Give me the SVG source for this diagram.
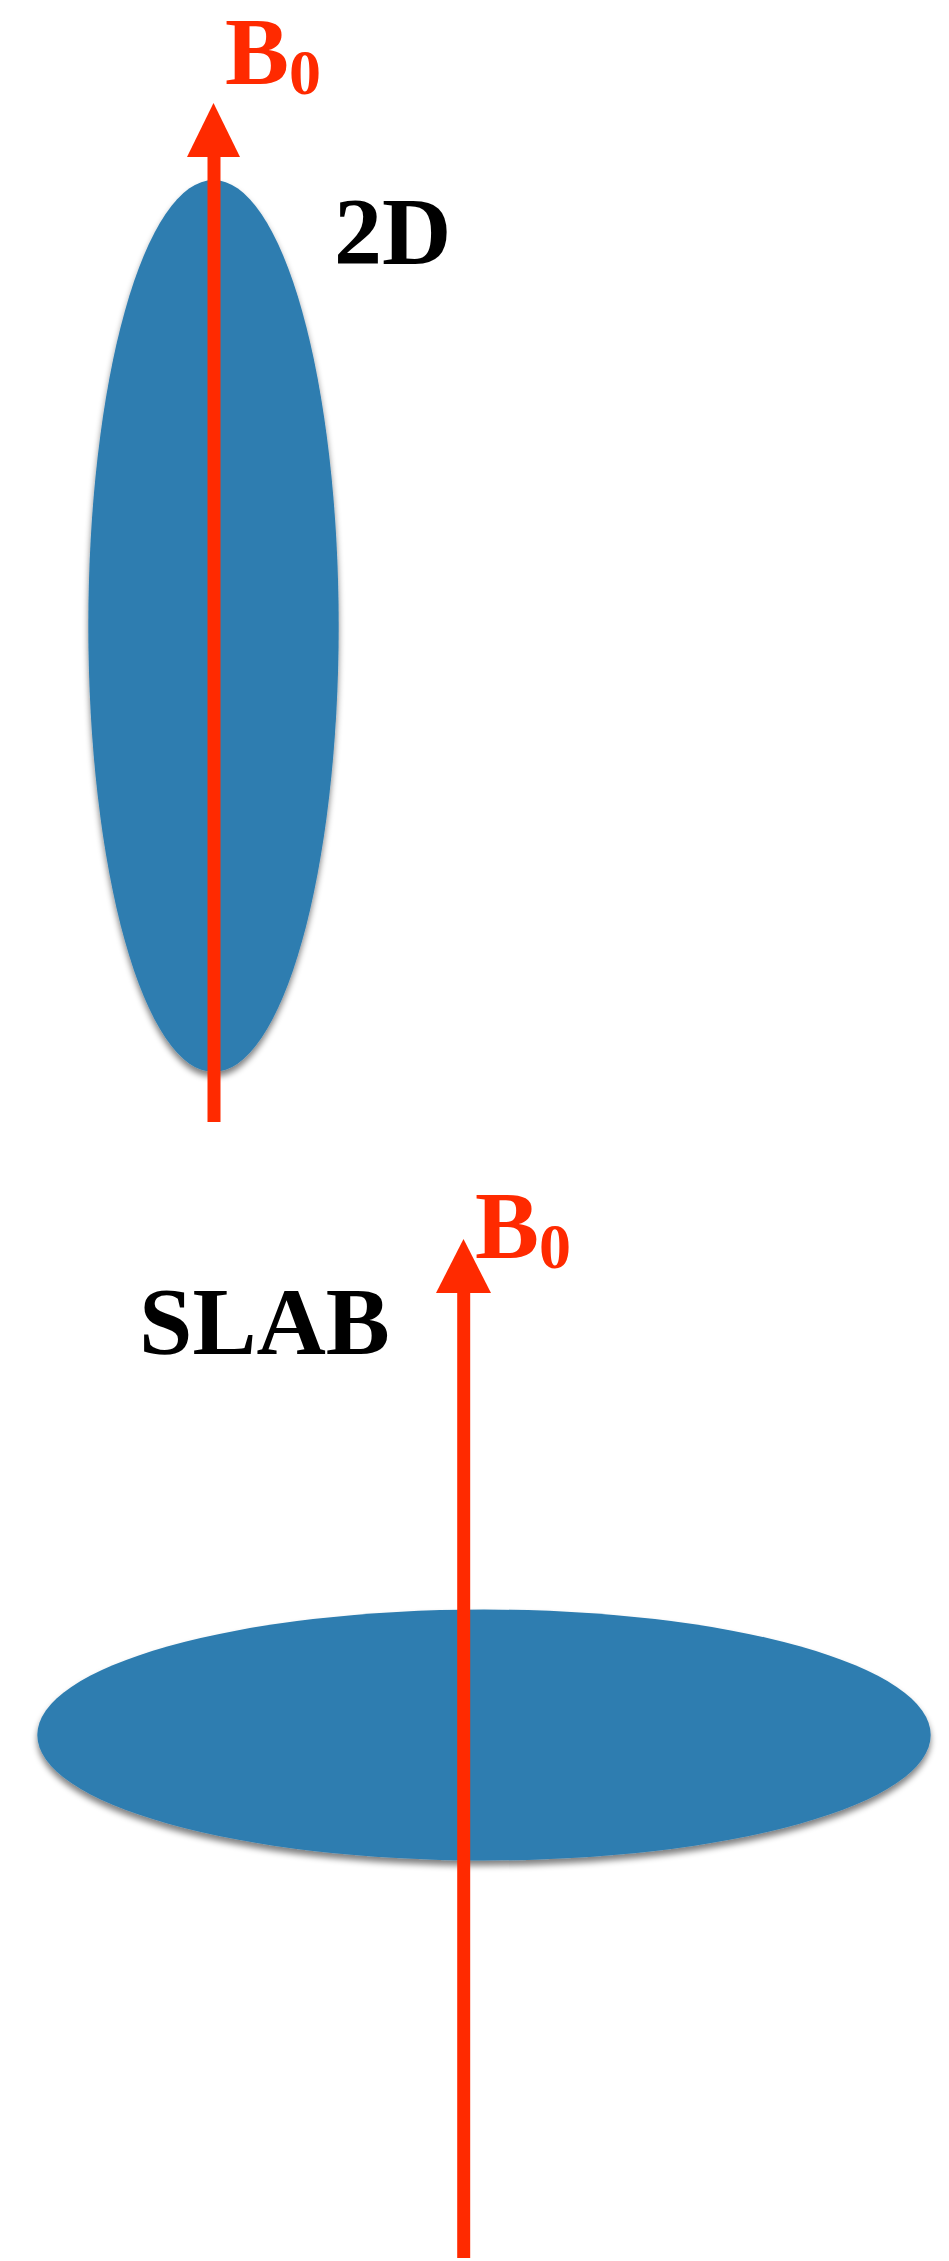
<svg xmlns="http://www.w3.org/2000/svg" width="949" height="2261" viewBox="0 0 949 2261">
<style>
.blob{fill:#2e7db0;filter:url(#sh)}
.field{stroke:#ff2a00;stroke-width:13;fill:none}
.head{fill:#ff2a00}
.lbl{font-family:"Liberation Serif","Times New Roman",serif;font-weight:bold;font-size:96px;fill:#000}
.b0{font-family:"Liberation Serif","Times New Roman",serif;font-weight:bold;font-size:96px;fill:#ff2a00}
.sub{font-size:64px}
</style>
<defs>
<filter id="sh" x="-10%" y="-10%" width="120%" height="125%">
<feGaussianBlur in="SourceAlpha" stdDeviation="3"/>
<feOffset dx="0" dy="5" result="b"/>
<feComponentTransfer><feFuncA type="linear" slope="0.5"/></feComponentTransfer>
<feMerge><feMergeNode/><feMergeNode in="SourceGraphic"/></feMerge>
</filter>
</defs>
<rect width="949" height="2261" fill="#ffffff"/>
<g id="ellipse-2d"><ellipse class="blob" cx="213.5" cy="626" rx="125.2" ry="446"/></g>
<g id="ellipse-slab"><ellipse class="blob" cx="484" cy="1735" rx="446.7" ry="125.5"/></g>
<g id="connectors">
<line class="field" x1="214" y1="150" x2="214" y2="1122"/>
<polygon class="head" points="213.5,103 187,157 240,157"/>
<line class="field" x1="463.7" y1="1285" x2="463.7" y2="2258"/>
<polygon class="head" points="463.5,1239 436,1293 491,1293"/>
</g>
<g id="label-b0-top"><text class="b0" x="225" y="84">B<tspan class="sub" dy="10">0</tspan></text></g>
<g id="label-2d"><text class="lbl" x="334" y="264">2D</text></g>
<g id="label-left"><text class="lbl" x="4.5" y="688" text-anchor="end">3D</text></g>
<g id="label-b0-bottom"><text class="b0" x="475" y="1258">B<tspan class="sub" dy="10">0</tspan></text></g>
<g id="label-slab"><text class="lbl" x="139" y="1354">SLAB</text></g>
</svg>
